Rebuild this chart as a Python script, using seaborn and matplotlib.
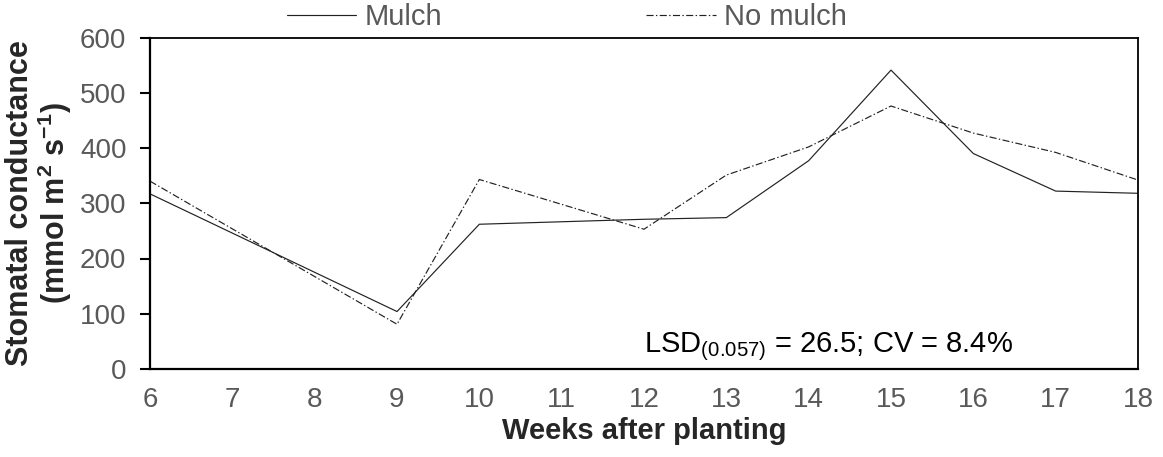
import matplotlib
matplotlib.use("Agg")
import matplotlib.pyplot as plt
import numpy as np
import pandas as pd
import seaborn as sns

# Stomatal conductance (mmol m-2 s-1) by week after planting
weeks = [6, 9, 10, 12, 13, 14, 15, 16, 17, 18]
mulch = [317, 104, 262, 271, 274, 377, 541, 390, 322, 318]
no_mulch = [340, 81, 343, 253, 351, 402, 476, 427, 392, 342]
series_names = ["Mulch", "No mulch"]

x_ticks = list(range(6, 19))
y_ticks = [0, 100, 200, 300, 400, 500, 600]

df = pd.DataFrame({
    "week": weeks * 2,
    "gs": mulch + no_mulch,
    "treatment": [series_names[0]] * len(weeks) + [series_names[1]] * len(weeks),
})

sns.set_style("ticks")
plt.rcParams["font.family"] = ["Liberation Sans", "DejaVu Sans"]
plt.rcParams["mathtext.default"] = "regular"

tick_grey = "#595959"

fig = plt.figure(figsize=(11.63, 4.57), dpi=100)
ax = fig.add_axes([150 / 1163, 1 - 369 / 457, (1138 - 150) / 1163, (369 - 37.5) / 457])

sns.lineplot(
    data=df, x="week", y="gs", hue="treatment", style="treatment",
    palette={"Mulch": "#222222", "No mulch": "#222222"},
    dashes={"Mulch": "", "No mulch": (6, 2, 1.2, 2)},
    linewidth=0.85, ax=ax, legend=True,
)

ax.set_xlim(6, 18)
ax.set_ylim(0, 600)
ax.set_xticks(x_ticks)
ax.set_yticks(y_ticks)
ax.tick_params(axis="x", length=0, pad=13, labelsize=20, labelcolor=tick_grey)
ax.tick_params(axis="y", length=7, width=1.5, pad=10, labelsize=20,
               labelcolor=tick_grey, color="black")

for side in ["left", "bottom", "top", "right"]:
    ax.spines[side].set_visible(True)
    ax.spines[side].set_color("black")
    ax.spines[side].set_linewidth(1.6)
ax.spines["top"].set_linewidth(1.3)
ax.spines["right"].set_linewidth(1.3)

ax.set_xlabel("Weeks after planting", fontsize=21, fontweight="bold", labelpad=3)
ax.set_ylabel("Stomatal conductance\n(mmol m$^2$ s$^{-1}$)", fontsize=22,
              fontweight="bold", labelpad=4, linespacing=1.05)

ax.text(12, 30, "LSD$_{(0.057)}$ = 26.5; CV = 8.4%", fontsize=21, color="black",
        ha="left", va="baseline")

handles, labels = ax.get_legend_handles_labels()
ax.get_legend().remove()
leg = fig.legend(handles, labels, loc="center", bbox_to_anchor=(0.4875, 0.962),
                 ncol=2, frameon=False, fontsize=21, handlelength=2.37,
                 handletextpad=0.28, columnspacing=7.0)
for t in leg.get_texts():
    t.set_color(tick_grey)

fig.savefig("out.png", dpi=100)
